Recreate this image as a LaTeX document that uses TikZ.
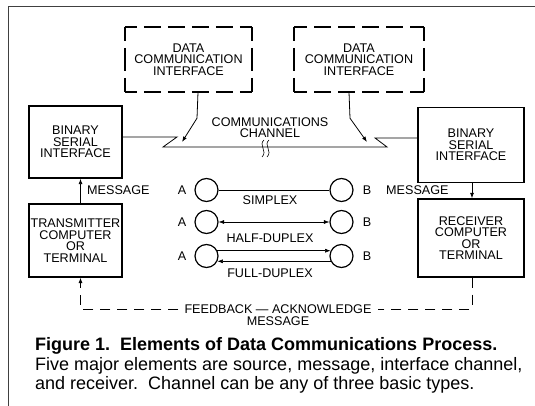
\documentclass[tikz,border=0pt]{standalone}
\usepackage{fontspec}
\setmainfont{Liberation Sans}
\usetikzlibrary{arrows.meta,calc}
\tikzset{
  lbl/.style={font=\fontsize{12.6}{11.6}\selectfont, align=center, inner sep=1pt},
  box/.style={draw, line width=1.3pt, lbl},
  pane/.style={lbl},
  dashH/.style={line width=1.5pt, dash pattern=on 17pt off 7pt, dash phase=#1},
  dashV/.style={line width=1.5pt, dash pattern=on 23pt off 7pt, dash phase=#1},
  ring/.style={draw, circle, line width=1.2pt, minimum size=23pt, inner sep=0pt},
  conn/.style={line width=0.8pt},
  thin/.style={line width=0.6pt},
  tip/.style={-{Latex[length=5.5pt,width=4pt]}},
  fbline/.style={line width=0.7pt, dash pattern=on 10pt off 7pt},
}
% dashed outline with solid corner arms: #1 node, #2 top/bottom phase, #3 side phase
\newcommand\cornerframe[3]{%
  \draw[dashH=#2] (#1.north west) -- (#1.north east);
  \draw[dashH=#2] (#1.south west) -- (#1.south east);
  \draw[dashV=#3] (#1.north west) -- (#1.south west);
  \draw[dashV=#3] (#1.north east) -- (#1.south east);
}
\begin{document}
\begin{tikzpicture}[x=1pt,y=-1pt]
\useasboundingbox (0,0) rectangle (535,406);

% open frame round the figure
\draw[line width=0.8pt, black!75] (8,406) -- (8,6) -- (535,6);

% interfaces
\node[pane, minimum width=127pt, minimum height=65pt] (dL) at (188.5,59.5) {DATA\\COMMUNICATION\\INTERFACE};
\node[pane, minimum width=130pt, minimum height=65pt] (dR) at (359,59.5) {DATA\\COMMUNICATION\\INTERFACE};
\cornerframe{dL}{5pt}{9pt}
\cornerframe{dR}{3.5pt}{9pt}

% end stations
\node[box, minimum width=93pt, minimum height=72pt] (bsiL) at (75.5,142) {BINARY\\SERIAL\\INTERFACE};
\node[box, minimum width=106pt, minimum height=75pt] (bsiR) at (471,145) {BINARY\\SERIAL\\INTERFACE};
\node[box, minimum width=93pt, minimum height=73pt] (tx) at (75.5,240.5) {TRANSMITTER\\COMPUTER\\OR\\TERMINAL};
\node[box, minimum width=106pt, minimum height=78pt] (rx) at (471,238) {RECEIVER\\COMPUTER\\OR\\TERMINAL};

% message flow
\draw[conn, tip] ([xshift=5pt]tx.north) -- ([xshift=5pt]bsiL.south);
\node[lbl, anchor=west] (msgL) at (86,190) {MESSAGE};
\draw[conn, tip] ([xshift=1pt]bsiR.south) -- ([xshift=1pt]rx.north);
\node[lbl, anchor=west] (msgR) at (385,190) {MESSAGE};

% communications channel
\draw[conn] (bsiL.east |- 0,137) -- (177,137) -- (163,147) -- (387,147) -- (375,138) -- (bsiR.west |- 0,138);
\draw[thin] (264,140) .. controls (258,145) and (268,151) .. (262,157);
\draw[thin] (269,140) .. controls (263,145) and (273,151) .. (267,157);
\node[lbl] (chan) at (270,127.5) {COMMUNICATIONS\\CHANNEL};
\draw[conn, tip] ([xshift=9.5pt]dL.south) -- ++(-1,26) -- (182,142);
\draw[conn, tip] ([xshift=-10pt]dR.south) -- ++(1,26) -- (367,142);

% channel types
\foreach \r/\y in {1/190, 2/222, 3/256} {
  \node[ring] (a\r) at (206.5,\y) {};
  \node[ring] (b\r) at (341.5,\y) {};
  \node[lbl] (la\r) at (182,\y) {A};
  \node[lbl] (lb\r) at (367,\y) {B};
}
\draw[thin] (a1) -- (b1);
\node[lbl] (simplex) at (270,200) {SIMPLEX};
\draw[thin, {Latex[length=5.5pt,width=4pt]}-{Latex[length=5.5pt,width=4pt]}] (a2) -- (b2);
\node[lbl] (half) at (270,238) {HALF-DUPLEX};
\draw[thin, tip] (a3.26) -- (b3.154);
\draw[thin, tip] (b3.206) -- (a3.334);
\node[lbl] (full) at (270,273) {FULL-DUPLEX};

% feedback path
\node[lbl, inner xsep=6pt] (fb) at (278,309) {FEEDBACK — ACKNOWLEDGE};
\node[lbl] (fbm) at (278,321) {MESSAGE};
\draw[fbline] ([xshift=1pt]rx.south) |- (fb.east);
\draw[fbline, tip] (fb.west) -| ([xshift=5pt]tx.south);

% caption
\node[anchor=west, align=left, inner sep=0pt, font=\fontsize{18}{19.5}\selectfont] (cap) at (35,365.5)
  {{\bfseries Figure 1.\ \ Elements of Data Communications Process.}\\
   Five major elements are source, message, interface channel,\\
   and receiver.\ \ Channel can be any of three basic types.};
\end{tikzpicture}
\end{document}
